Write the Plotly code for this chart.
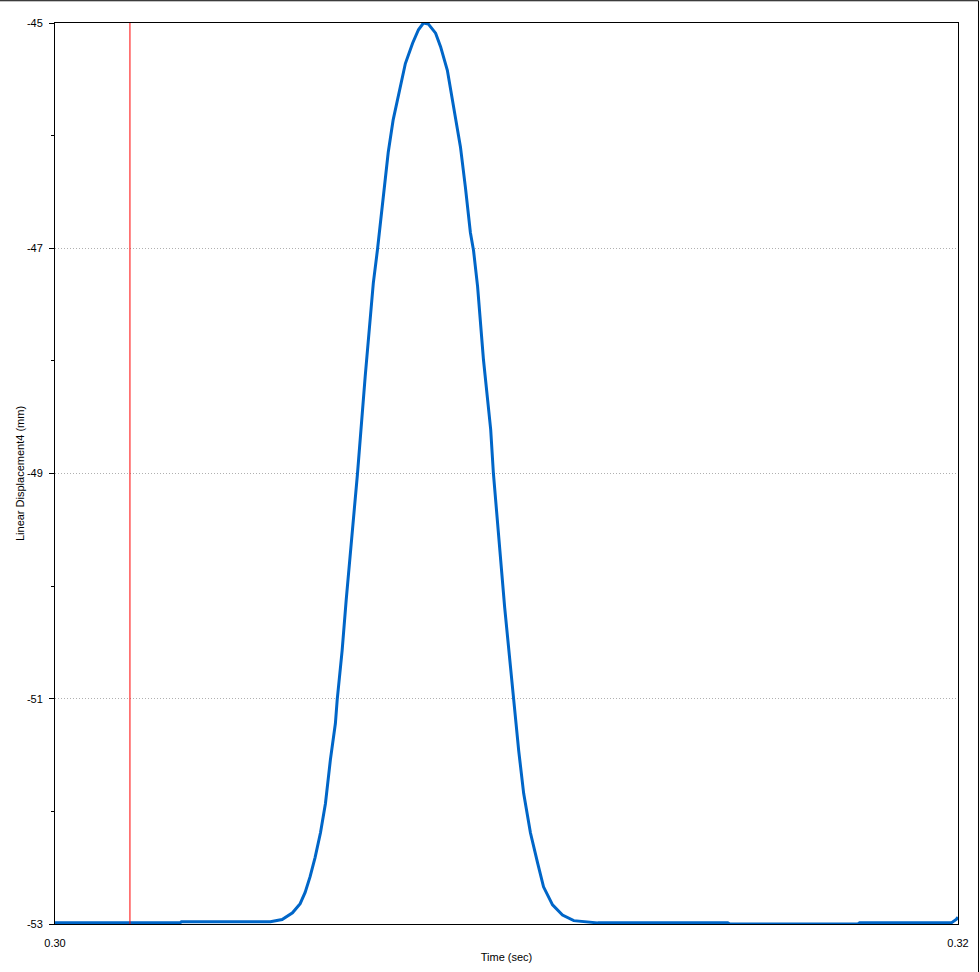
import plotly.graph_objects as go

time_sec = [0.30000, 0.30277, 0.30280, 0.30477, 0.30503, 0.30526, 0.30543, 0.30554, 0.30565,
            0.30576, 0.30588, 0.30599, 0.30610, 0.30621, 0.30625, 0.30636, 0.30645, 0.30670,
            0.30687, 0.30705, 0.30714, 0.30725, 0.30738, 0.30749, 0.30765, 0.30776, 0.30792,
            0.30805, 0.30816, 0.30827, 0.30843, 0.30854, 0.30869, 0.30882, 0.30898, 0.30909,
            0.30920, 0.30927, 0.30936, 0.30949, 0.30965, 0.30971, 0.30982, 0.30996, 0.31016,
            0.31027, 0.31038, 0.31053, 0.31069, 0.31082, 0.31102, 0.31124, 0.31149, 0.31202,
            0.31490, 0.31495, 0.31778, 0.31782, 0.31985, 0.31996, 0.32000]
displacement_mm = [-52.99, -52.99, -52.98, -52.98, -52.96, -52.90, -52.82, -52.72, -52.58,
                   -52.41, -52.19, -51.93, -51.54, -51.22, -51.01, -50.57, -50.12, -49.00,
                   -48.14, -47.31, -47.02, -46.63, -46.15, -45.86, -45.57, -45.36, -45.18,
                   -45.06, -45.00, -45.01, -45.09, -45.21, -45.42, -45.71, -46.10, -46.46,
                   -46.86, -47.02, -47.34, -47.99, -48.61, -49.00, -49.56, -50.19, -51.01,
                   -51.46, -51.84, -52.19, -52.46, -52.67, -52.83, -52.92, -52.97, -52.99,
                   -52.99, -53.00, -53.00, -52.99, -52.99, -52.96, -52.94]
marker_time = 0.30166
x_ticks = [0.30, 0.32]
x_tick_labels = ["0.30", "0.32"]
y_ticks = [-45, -47, -49, -51, -53]
y_tick_labels = ["-45", "-47", "-49", "-51", "-53"]

fig = go.Figure()
fig.add_trace(go.Scatter(x=time_sec, y=displacement_mm, mode="lines",
                         line=dict(color="#0066c8", width=3), showlegend=False,
                         cliponaxis=True))

fig.add_shape(type="line", xref="x", yref="paper", x0=marker_time, x1=marker_time,
              y0=0, y1=1, line=dict(color="#ff0000", width=1), layer="above")
# outer frame (top and right)
fig.add_shape(type="line", xref="paper", yref="paper", x0=-0.07, x1=1.0227,
              y0=1.0247, y1=1.0247, line=dict(color="black", width=1))
fig.add_shape(type="line", xref="paper", yref="paper", x0=1.0227, x1=1.0227,
              y0=-0.06, y1=1.0247, line=dict(color="black", width=1))

font = dict(family="Liberation Sans, Arial, sans-serif", size=11, color="black")
fig.update_layout(
    width=980, height=972,
    margin=dict(l=55, r=22, t=23, b=48),
    paper_bgcolor="white", plot_bgcolor="white",
    font=font,
    xaxis=dict(range=[0.30, 0.32], tickvals=x_ticks, ticktext=x_tick_labels,
               ticks="outside", ticklen=9, tickcolor="rgba(0,0,0,0)",
               showgrid=False, zeroline=False, showline=True,
               linecolor="black", linewidth=1, mirror=True,
               title=dict(text="Time (sec)", font=font, standoff=5),
               automargin=False),
    yaxis=dict(range=[-53, -45], tickvals=y_ticks, ticktext=y_tick_labels,
               ticks="outside", ticklen=5, ticklabelstandoff=4,
               tickcolor="black", showgrid=True, gridcolor="#b0b0b0", griddash="1px,2px",
               gridwidth=1, zeroline=False, showline=True, linecolor="black",
               linewidth=1, mirror=True,
               minor=dict(ticks="outside", ticklen=3, dtick=1, tick0=-53,
                          tickcolor="black", showgrid=False),
               title=dict(text="Linear Displacement4 (mm)", font=font, standoff=0),
               automargin=False),
)
fig.write_html("out.html", config={"displayModeBar": False},
               post_script="document.body.style.margin='0';document.body.style.overflow='hidden';")
